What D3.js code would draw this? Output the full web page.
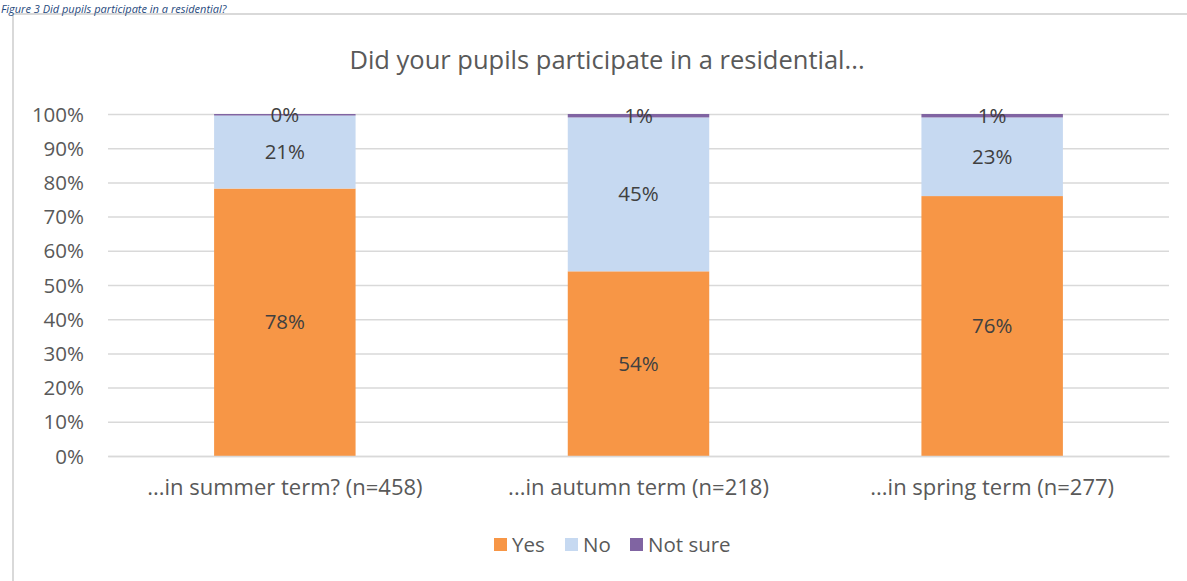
<!DOCTYPE html>
<html><head><meta charset="utf-8">
<script src="https://cdn.jsdelivr.net/npm/d3@7"></script>
<style>body{margin:0;background:#fff;font-family:"Open Sans",sans-serif;}</style>
</head><body><svg id="c" width="1187" height="581"></svg>
<script>
const categories = ["...in summer term? (n=458)", "...in autumn term (n=218)", "...in spring term (n=277)"];
const seriesNames = ["Yes", "No", "Not sure"];
const yesValues = [78.2, 54, 76];
const noValues = [21.4, 45, 23];
const notSureValues = [0.4, 1, 1];
const yTicks = [0,10,20,30,40,50,60,70,80,90,100];
const colors = ["#F79646", "#C6D9F1", "#8064A2"];

const svg = d3.select("#c");
const font = "'Open Sans', sans-serif";
svg.append("rect").attr("x",13).attr("y",14).attr("width",1190).attr("height",580)
  .attr("fill","#fff").attr("stroke","#D9D9D9").attr("stroke-width",2);
svg.append("text").attr("x", 1).attr("y", 12.5).attr("font-style","italic").attr("font-size",11)
  .attr("fill","#1F497D").attr("font-family",font).text("Figure 3 Did pupils participate in a residential?");

svg.append("text").attr("x",607).attr("y",69).attr("text-anchor","middle").attr("font-size",25.5)
  .attr("fill","#595959").attr("font-family",font).text("Did your pupils participate in a residential...");

const x = d3.scaleBand().domain(categories).range([108,1169]).paddingInner(0.6).paddingOuter(0.3);
const y = d3.scaleLinear().domain([0,100]).range([456,114]);

const gy = svg.append("g").attr("transform","translate(108,0)")
  .call(d3.axisLeft(y).tickValues(yTicks).tickSize(-1061).tickFormat(d=>d+"%"));
gy.select(".domain").remove();
gy.selectAll(".tick line").attr("stroke","#D9D9D9").attr("stroke-width",1.5);
gy.selectAll(".tick text").attr("x",-24).attr("dy","0.35em").attr("font-size",20.5).attr("fill","#595959").attr("font-family",font);

const data = categories.map((c,i)=>({cat:c, "Yes":yesValues[i], "No":noValues[i], "Not sure":notSureValues[i]}));
const stacked = d3.stack().keys(seriesNames)(data);

stacked.forEach((s,si)=>{
  const g = svg.append("g");
  g.selectAll("rect").data(s).join("rect")
    .attr("x",d=>x(d.data.cat)).attr("width",x.bandwidth())
    .attr("y",d=>y(d[1])).attr("height",d=>Math.max(y(d[0])-y(d[1]), si===2?1.5:0))
    .attr("fill",colors[si]);
});
stacked.forEach((s,si)=>{
  svg.append("g").selectAll("text").data(s).join("text")
    .attr("x",d=>x(d.data.cat)+x.bandwidth()/2)
    .attr("y",d=>y((d[0]+d[1])/2)+7)
    .attr("text-anchor","middle").attr("font-size",20.5).attr("fill","#404040").attr("font-family",font)
    .text(d=>Math.round(d[1]-d[0])+"%");
});

const gx = svg.append("g").attr("transform","translate(0,456)").call(d3.axisBottom(x).tickSize(0));
gx.select(".domain").attr("stroke","#D9D9D9").attr("stroke-width",1.5);
gx.selectAll(".tick text").attr("dy",0).attr("y",39).attr("font-size",22).attr("fill","#595959").attr("font-family",font);

const legendX = [494, 565, 630];
const lg = svg.append("g");
seriesNames.forEach((n,i)=>{
  lg.append("rect").attr("x",legendX[i]).attr("y",538).attr("width",13).attr("height",13).attr("fill",colors[i]);
  lg.append("text").attr("x",legendX[i]+18).attr("y",552).attr("font-size",20.5).attr("fill","#595959")
    .attr("font-family",font).text(n);
});
</script></body></html>
